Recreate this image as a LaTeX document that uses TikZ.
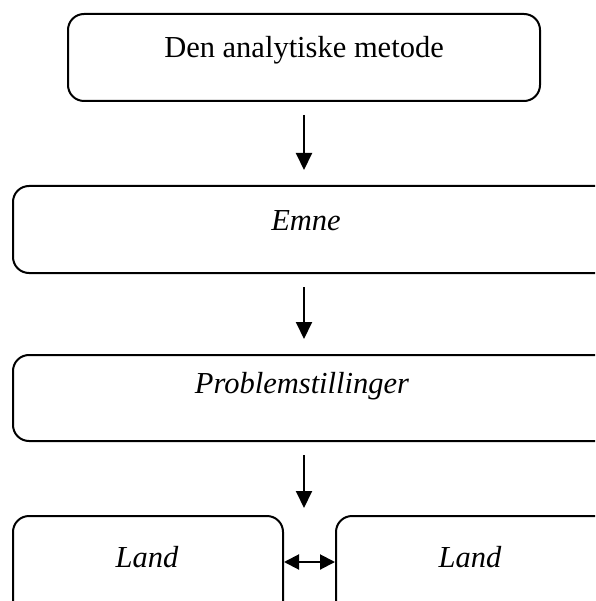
\documentclass[tikz,border=0pt]{standalone}
\usepackage{fontspec}
\setmainfont{Liberation Serif}
\usetikzlibrary{arrows.meta}
\begin{document}
\begin{tikzpicture}[x=1pt,y=-1pt,
  box/.style={draw=black,line width=2pt,rounded corners=16pt,rectangle,inner sep=0pt},
  lbl/.style={font=\fontsize{30.5}{36}\selectfont,anchor=base,inner sep=0pt},
  arr/.style={line width=2pt,-{Triangle[length=17pt,width=16pt]}},
  darr/.style={line width=2pt,{Triangle[length=15pt,width=15pt]}-{Triangle[length=15pt,width=15pt]}}]
\useasboundingbox (0,0) rectangle (595,601);
\clip (0,0) rectangle (595,601);
\node[box,minimum width=472pt,minimum height=87pt] (A) at (304,57.5) {};
\node[box,minimum width=605pt,minimum height=87pt,anchor=north west] (B) at (12,185) {};
\node[box,minimum width=605pt,minimum height=86pt,anchor=north west] (C) at (12,354) {};
\node[box,minimum width=270pt,minimum height=110pt,anchor=north west] (D) at (12,515) {};
\node[box,minimum width=290pt,minimum height=110pt,anchor=north west] (E) at (335,515) {};
\node[lbl] (tA) at (304,58) {Den analytiske metode};
\node[lbl] (tB) at (306,231) {\itshape Emne};
\node[lbl] (tC) at (302,393) {\itshape Problemstillinger};
\node[lbl] (tD) at (147,567) {\itshape Land};
\node[lbl] (tE) at (470,567) {\itshape Land};
\coordinate (a1) at (304,115);
\coordinate (b1) at (304,287);
\coordinate (c1) at (304,455);
\draw[arr] (a1) -- (304,170);
\draw[arr] (b1) -- (304,339);
\draw[arr] (c1) -- (304,508);
\draw[darr] (D.east |- 0,562) -- (E.west |- 0,562);
\end{tikzpicture}
\end{document}
